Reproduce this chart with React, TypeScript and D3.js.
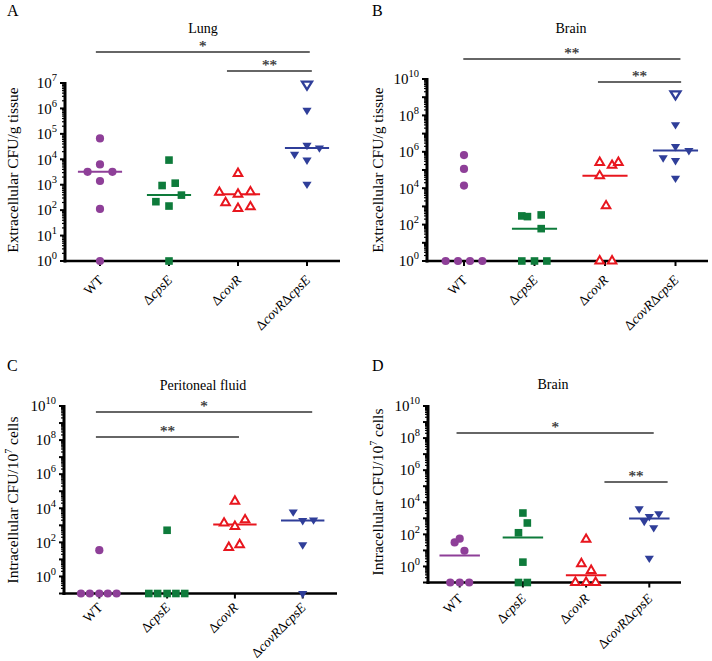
import React from 'react';
import * as d3 from 'd3';

// ---------- DATA ----------
const categories = ['WT', 'ΔcpsE', 'ΔcovR', 'ΔcovRΔcpsE'];
const colors = ['#8E3F98', '#0E7B3B', '#E8161E', '#2F3E99'];

// Panel A – Lung, extracellular CFU/g tissue (0 = below detection, drawn at axis)
const lungWT = [66000, 6300, 3200, 3200, 1400, 112, 0];
const lungWTjit = [0, 0, -0.18, 0.18, 0, 0, 0];
const lungCps = [9300, 930, 1150, 390, 215, 145, 0];
const lungCpsJit = [0, -0.1, 0.09, 0.18, -0.19, 0, 0];
const lungCov = [2750, 500, 420, 525, 195, 117, 135];
const lungCovJit = [0, -0.27, 0, 0.18, -0.18, 0, 0.18];
const lungDko = [8.9e6, 8.5e5, 35500, 28000, 15800, 9300, 1050];
const lungDkoJit = [0, 0, 0, 0.18, -0.18, 0, 0];
const lungDkoOpen = [1, 0, 0, 0, 0, 0, 0];

// Panel B – Brain, extracellular
const brainExWT = [6.6e5, 1.15e5, 1.4e4, 0, 0, 0, 0];
const brainExWTjit = [0, 0, 0, -0.26, -0.085, 0.085, 0.26];
const brainExCps = [300, 275, 340, 60, 0, 0, 0];
const brainExCpsJit = [-0.18, -0.1, 0.095, 0.095, -0.18, 0, 0.175];
const brainExCov = [2.6e5, 1.8e5, 2.6e5, 4.8e4, 1070, 0, 0];
const brainExCovJit = [-0.075, 0.1, 0.19, -0.075, 0.015, -0.075, 0.1];
const brainExDko = [1.5e9, 3.1e7, 1.95e6, 1.17e6, 4.7e5, 3.3e5, 3.55e4];
const brainExDkoJit = [0, 0, 0, 0.19, -0.175, 0, 0];
const brainExDkoOpen = [1, 0, 0, 0, 0, 0, 0];

// Panel C – Peritoneal fluid, intracellular CFU/10^7 cells
const periWT = [35, 0, 0, 0, 0, 0];
const periWTjit = [0, -0.27, -0.14, 0, 0.125, 0.255];
const periCps = [513, 0, 0, 0, 0, 0];
const periCpsJit = [0, -0.27, -0.14, 0, 0.13, 0.26];
const periCov = [25700, 2090, 1350, 850, 72, 50];
const periCovJit = [0, 0.15, -0.16, 0, 0.07, -0.09];
const periDko = [6170, 1905, 2090, 72, 0];
const periDkoJit = [-0.14, 0, 0.16, 0, 0];

// Panel D – Brain, intracellular
const brainInWT = [31.6, 53.7, 9.5, 0, 0, 0];
const brainInWTjit = [-0.08, 0, 0.075, -0.15, 0, 0.15];
const brainInCps = [2140, 513, 126, 1.86, 0, 0];
const brainInCpsJit = [0, 0.07, -0.07, 0, -0.07, 0.07];
const brainInCov = [49, 1.48, 0.56, 0, 0, 0];
const brainInCovJit = [0, -0.075, 0.08, -0.17, 0, 0.15];
const brainInDko = [3980, 1300, 660, 1950, 263, 3.3];
const brainInDkoJit = [-0.16, 0, -0.08, 0.15, 0.07, 0];

// significance bars: [fromX, toX, label] in category units
const sigA: [number, number, string][] = [[-0.06, 3.04, '*'], [1.84, 3.07, '**']];
const sigB: [number, number, string][] = [[-0.01, 3.07, '**'], [1.9, 3.08, '**']];
const sigC: [number, number, string][] = [[-0.05, 3.14, '*'], [-0.05, 2.06, '**']];
const sigD: [number, number, string][] = [[-0.05, 3.07, '*'], [2.29, 3.29, '**']];

// ---------- LAYOUT ----------
type Group = { values: number[]; jit: number[]; open?: number[] };
type Panel = {
  letter: string; title: string; ylabel: 'ex' | 'in';
  groups: Group[]; sig: [number, number, string][]; sigY: number[];
  axisX: number; xEnd: number; cat0: number; step: number;
  yTop: number; yBot: number; dom: [number, number]; labelEvery: number; labOff: number;
  letterPos: [number, number]; titlePos: [number, number]; ylabPos: [number, number];
};

const panels: Panel[] = [
  {
    letter: 'A', title: 'Lung', ylabel: 'ex',
    groups: [
      { values: lungWT, jit: lungWTjit }, { values: lungCps, jit: lungCpsJit },
      { values: lungCov, jit: lungCovJit }, { values: lungDko, jit: lungDkoJit, open: lungDkoOpen },
    ],
    sig: sigA, sigY: [52, 71],
    axisX: 65, xEnd: 340, cat0: 100, step: 69, yTop: 83, yBot: 261, dom: [1, 1e7], labelEvery: 1, labOff: 20,
    letterPos: [7, 16], titlePos: [203, 33], ylabPos: [18, 170],
  },
  {
    letter: 'B', title: 'Brain', ylabel: 'ex',
    groups: [
      { values: brainExWT, jit: brainExWTjit }, { values: brainExCps, jit: brainExCpsJit },
      { values: brainExCov, jit: brainExCovJit }, { values: brainExDko, jit: brainExDkoJit, open: brainExDkoOpen },
    ],
    sig: sigB, sigY: [59, 82],
    axisX: 427, xEnd: 708, cat0: 464, step: 70.5, yTop: 79, yBot: 261, dom: [1, 1e10], labelEvery: 2, labOff: 20,
    letterPos: [372, 16], titlePos: [571, 33], ylabPos: [383, 170],
  },
  {
    letter: 'C', title: 'Peritoneal fluid', ylabel: 'in',
    groups: [
      { values: periWT, jit: periWTjit }, { values: periCps, jit: periCpsJit },
      { values: periCov, jit: periCovJit }, { values: periDko, jit: periDkoJit },
    ],
    sig: sigC, sigY: [412, 437],
    axisX: 64, xEnd: 337, cat0: 99.3, step: 67.8, yTop: 406, yBot: 593.5, dom: [0.1, 1e10], labelEvery: 2, labOff: 15,
    letterPos: [7, 371], titlePos: [203, 390], ylabPos: [18, 500],
  },
  {
    letter: 'D', title: 'Brain', ylabel: 'in',
    groups: [
      { values: brainInWT, jit: brainInWTjit }, { values: brainInCps, jit: brainInCpsJit },
      { values: brainInCov, jit: brainInCovJit }, { values: brainInDko, jit: brainInDkoJit },
    ],
    sig: sigD, sigY: [433, 482],
    axisX: 428, xEnd: 681, cat0: 459.7, step: 63.2, yTop: 406, yBot: 582.5, dom: [0.1, 1e10], labelEvery: 2, labOff: 17,
    letterPos: [372, 371], titlePos: [553, 389], ylabPos: [383, 492],
  },
];

const FONT = '"Liberation Serif", "DejaVu Serif", serif';

function median(v: number[]) {
  return d3.median(v) as number;
}

function marker(gi: number, x: number, y: number, open: boolean, key: string) {
  const c = colors[gi];
  if (gi === 0) return <circle key={key} cx={x} cy={y} r={4.1} fill={c} />;
  if (gi === 1) return <rect key={key} x={x - 3.8} y={y - 3.8} width={7.6} height={7.6} fill={c} />;
  if (gi === 2) {
    const w = 4.3, h = 7.4;
    const p = `M${x},${y - (2 * h) / 3}L${x - w},${y + h / 3}L${x + w},${y + h / 3}Z`;
    return <path key={key} d={p} fill="#fff" stroke={c} strokeWidth={2} strokeLinejoin="miter" />;
  }
  if (open) {
    const w = 5, h = 8;
    const p = `M${x},${y + (2 * h) / 3}L${x - w},${y - h / 3}L${x + w},${y - h / 3}Z`;
    return <path key={key} d={p} fill="#fff" stroke={c} strokeWidth={2.3} />;
  }
  const w = 4.6, h = 7.4;
  const p = `M${x},${y + (2 * h) / 3}L${x - w},${y - h / 3}L${x + w},${y - h / 3}Z`;
  return <path key={key} d={p} fill={c} />;
}

function CatLabel({ name, x, y }: { name: string; x: number; y: number }) {
  const t = `translate(${x},${y}) rotate(-45)`;
  if (name === 'WT') {
    return <text transform={t} textAnchor="end" fontSize={13.5} fontFamily={FONT}>WT</text>;
  }
  const parts = name.split('Δ').filter((s) => s.length > 0);
  return (
    <text transform={t} textAnchor="end" fontSize={13.5} fontFamily={FONT}>
      {parts.map((p, i) => (
        <React.Fragment key={i}>
          <tspan>Δ</tspan>
          <tspan fontStyle="italic">{p}</tspan>
        </React.Fragment>
      ))}
    </text>
  );
}

function PanelView({ p }: { p: Panel }) {
  const y = d3.scaleLog().domain(p.dom).range([p.yBot, p.yTop]);
  const x = d3.scaleLinear().domain([0, 3]).range([p.cat0, p.cat0 + 3 * p.step]);
  const lo = Math.round(Math.log10(p.dom[0]));
  const hi = Math.round(Math.log10(p.dom[1]));
  const majors: number[] = d3.range(lo, hi + 1);
  const minors: number[] = [];
  for (let e = lo; e < hi; e++) for (let m = 2; m <= 9; m++) minors.push(m * Math.pow(10, e));
  const axisY = p.yBot;
  const yv = (v: number) => (v <= p.dom[0] ? p.yBot : y(v));

  return (
    <g>
      <text x={p.letterPos[0]} y={p.letterPos[1]} fontSize={16} fontFamily={FONT}>{p.letter}</text>
      <text x={p.titlePos[0]} y={p.titlePos[1]} fontSize={14} fontFamily={FONT} textAnchor="middle">{p.title}</text>
      <text transform={`translate(${p.ylabPos[0]},${p.ylabPos[1]}) rotate(-90)`} textAnchor="middle" fontSize={15.5} fontFamily={FONT}>
        {p.ylabel === 'ex' ? 'Extracellular CFU/g tissue' : (
          <>
            <tspan>Intracellular CFU/10</tspan>
            <tspan dy={-6} fontSize={10}>7</tspan>
            <tspan dy={6}> cells</tspan>
          </>
        )}
      </text>

      {/* significance bars */}
      {p.sig.map((s, i) => (
        <g key={i}>
          <line x1={x(s[0])} x2={x(s[1])} y1={p.sigY[i]} y2={p.sigY[i]} stroke="#333" strokeWidth={1.3} />
          <text x={(x(s[0]) + x(s[1])) / 2} y={p.sigY[i] - 1.5} textAnchor="middle" fontSize={15} fontFamily={FONT} fill="#333" stroke="#333" strokeWidth={0.25}>{s[2]}</text>
        </g>
      ))}

      {/* y axis */}
      {minors.map((v, i) => (
        <line key={'mn' + i} x1={p.axisX - 3} x2={p.axisX} y1={y(v)} y2={y(v)} stroke="#000" strokeWidth={1.2} />
      ))}
      {majors.map((e) => (
        <line key={'mj' + e} x1={p.axisX - 5} x2={p.axisX} y1={y(Math.pow(10, e))} y2={y(Math.pow(10, e))} stroke="#000" strokeWidth={2} />
      ))}
      {majors.filter((e) => e % p.labelEvery === 0 && e >= 0).map((e) => (
        <text key={'lb' + e} x={p.axisX - 8} y={y(Math.pow(10, e)) + 5.3} textAnchor="end" fontSize={15} fontFamily={FONT}>
          <tspan>10</tspan>
          <tspan dy={-7} fontSize={10.5}>{e}</tspan>
        </text>
      ))}
      <line x1={p.axisX} x2={p.axisX} y1={p.yTop - 1} y2={axisY + 1.5} stroke="#000" strokeWidth={3} />
      {/* x axis */}
      <line x1={p.axisX - 1.5} x2={p.xEnd} y1={axisY} y2={axisY} stroke="#000" strokeWidth={2.5} />
      {categories.map((c, i) => (
        <g key={c}>
          <line x1={x(i)} x2={x(i)} y1={axisY} y2={axisY + 5} stroke="#000" strokeWidth={2} />
          <CatLabel name={c} x={x(i) + 4} y={axisY + p.labOff} />
        </g>
      ))}

      {/* medians */}
      {p.groups.map((g, gi) => {
        const m = median(g.values);
        if (!(m > p.dom[0])) return null;
        return (
          <line key={'md' + gi} x1={x(gi - 0.32)} x2={x(gi + 0.32)} y1={y(m)} y2={y(m)} stroke={colors[gi]} strokeWidth={2} />
        );
      })}
      {/* points */}
      {p.groups.map((g, gi) =>
        g.values.map((v, k) => marker(gi, x(gi + g.jit[k]), yv(v), !!(g.open && g.open[k]), `${gi}-${k}`))
      )}
    </g>
  );
}

export default function App() {
  return (
    <svg width={712} height={661} viewBox="0 0 712 661" style={{ display: 'block', position: 'absolute', left: 0, top: 0, background: '#fff' }}>
      <rect width={712} height={661} fill="#fff" />
      {panels.map((p) => <PanelView key={p.letter} p={p} />)}
    </svg>
  );
}
